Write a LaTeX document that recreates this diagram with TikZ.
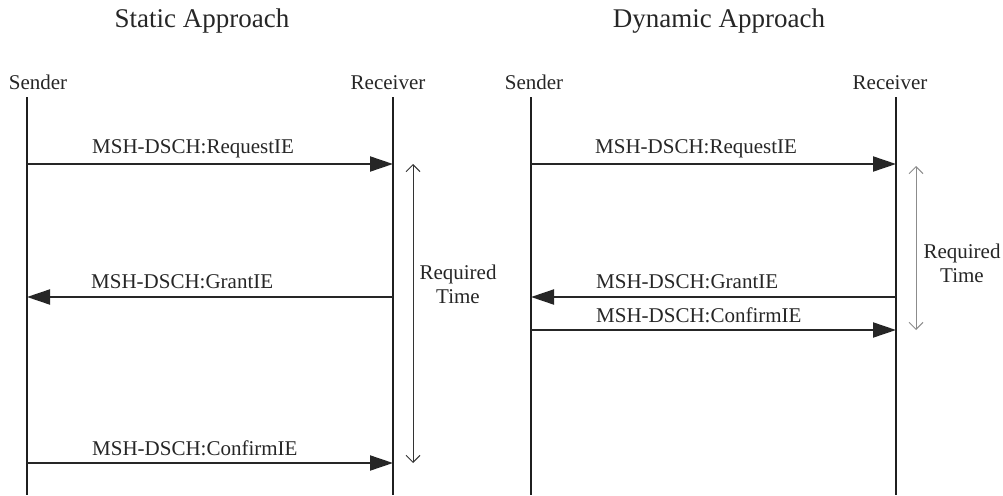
\documentclass[tikz,border=0pt]{standalone}
\usepackage{fontspec}
\setmainfont{Liberation Serif}
\usetikzlibrary{arrows.meta}
\begin{document}
\begin{tikzpicture}[x=1pt,y=-1pt,
  lifeline/.style={line width=2.4pt,draw=black!88},
  msg/.style={line width=2pt,draw=black!85,-{Triangle[length=23pt,width=15pt]}},
  msglabel/.style={anchor=base west,inner sep=0pt,font=\fontsize{21}{24}\selectfont,text=black!85},
  actor/.style={anchor=base,inner sep=0pt,font=\fontsize{21}{24}\selectfont,text=black!85},
  titletext/.style={anchor=base,inner sep=0pt,font=\fontsize{27}{30}\selectfont,text=black!85},
  reqtime/.style={line width=1pt,{Straight Barb[length=7pt,width=14pt]}-{Straight Barb[length=7pt,width=14pt]}},
  reqlabel/.style={align=center,inner sep=0pt,font=\fontsize{21}{24}\selectfont,text=black!85}]
\useasboundingbox (0,0) rectangle (1003,495);

% ---------- Static approach ----------
\node[titletext] (t1) at (202,28) {Static Approach};
\node[actor] (s1) at (38,89) {Sender};
\node[actor] (r1) at (388,89) {Receiver};
\coordinate (s1top) at (27,97); \coordinate (s1bot) at (27,495);
\coordinate (r1top) at (393,97); \coordinate (r1bot) at (393,495);
\draw[lifeline] (s1top) -- (s1bot);
\draw[lifeline] (r1top) -- (r1bot);

\coordinate (s1a) at (27,164); \coordinate (r1a) at (393,164);
\coordinate (s1b) at (27,297); \coordinate (r1b) at (393,297);
\coordinate (s1c) at (27,463); \coordinate (r1c) at (393,463);
\draw[msg] (s1a) -- (r1a);
\draw[msg] (r1b) -- (s1b);
\draw[msg] (s1c) -- (r1c);
\node[msglabel] (l1a) at (92,153) {MSH-DSCH:RequestIE};
\node[msglabel] (l1b) at (91,288) {MSH-DSCH:GrantIE};
\node[msglabel] (l1c) at (92,455) {MSH-DSCH:ConfirmIE};

\coordinate (q1top) at (413,164); \coordinate (q1bot) at (413,463);
\draw[reqtime,draw=black!80] (q1top) -- (q1bot);
\node[reqlabel] (q1) at (458,284) {Required\\Time};

% ---------- Dynamic approach ----------
\node[titletext] (t2) at (719,28) {Dynamic Approach};
\node[actor] (s2) at (534,89) {Sender};
\node[actor] (r2) at (890,89) {Receiver};
\coordinate (s2top) at (531,97); \coordinate (s2bot) at (531,495);
\coordinate (r2top) at (896,97); \coordinate (r2bot) at (896,495);
\draw[lifeline] (s2top) -- (s2bot);
\draw[lifeline] (r2top) -- (r2bot);

\coordinate (s2a) at (531,164); \coordinate (r2a) at (896,164);
\coordinate (s2b) at (531,297); \coordinate (r2b) at (896,297);
\coordinate (s2c) at (531,330); \coordinate (r2c) at (896,330);
\draw[msg] (s2a) -- (r2a);
\draw[msg] (r2b) -- (s2b);
\draw[msg] (s2c) -- (r2c);
\node[msglabel] (l2a) at (595,153) {MSH-DSCH:RequestIE};
\node[msglabel] (l2b) at (596,288) {MSH-DSCH:GrantIE};
\node[msglabel] (l2c) at (596,322) {MSH-DSCH:ConfirmIE};

\coordinate (q2top) at (916,166); \coordinate (q2bot) at (916,330);
\draw[reqtime,draw=black!45] (q2top) -- (q2bot);
\node[reqlabel] (q2) at (962,263) {Required\\Time};
\end{tikzpicture}
\end{document}
